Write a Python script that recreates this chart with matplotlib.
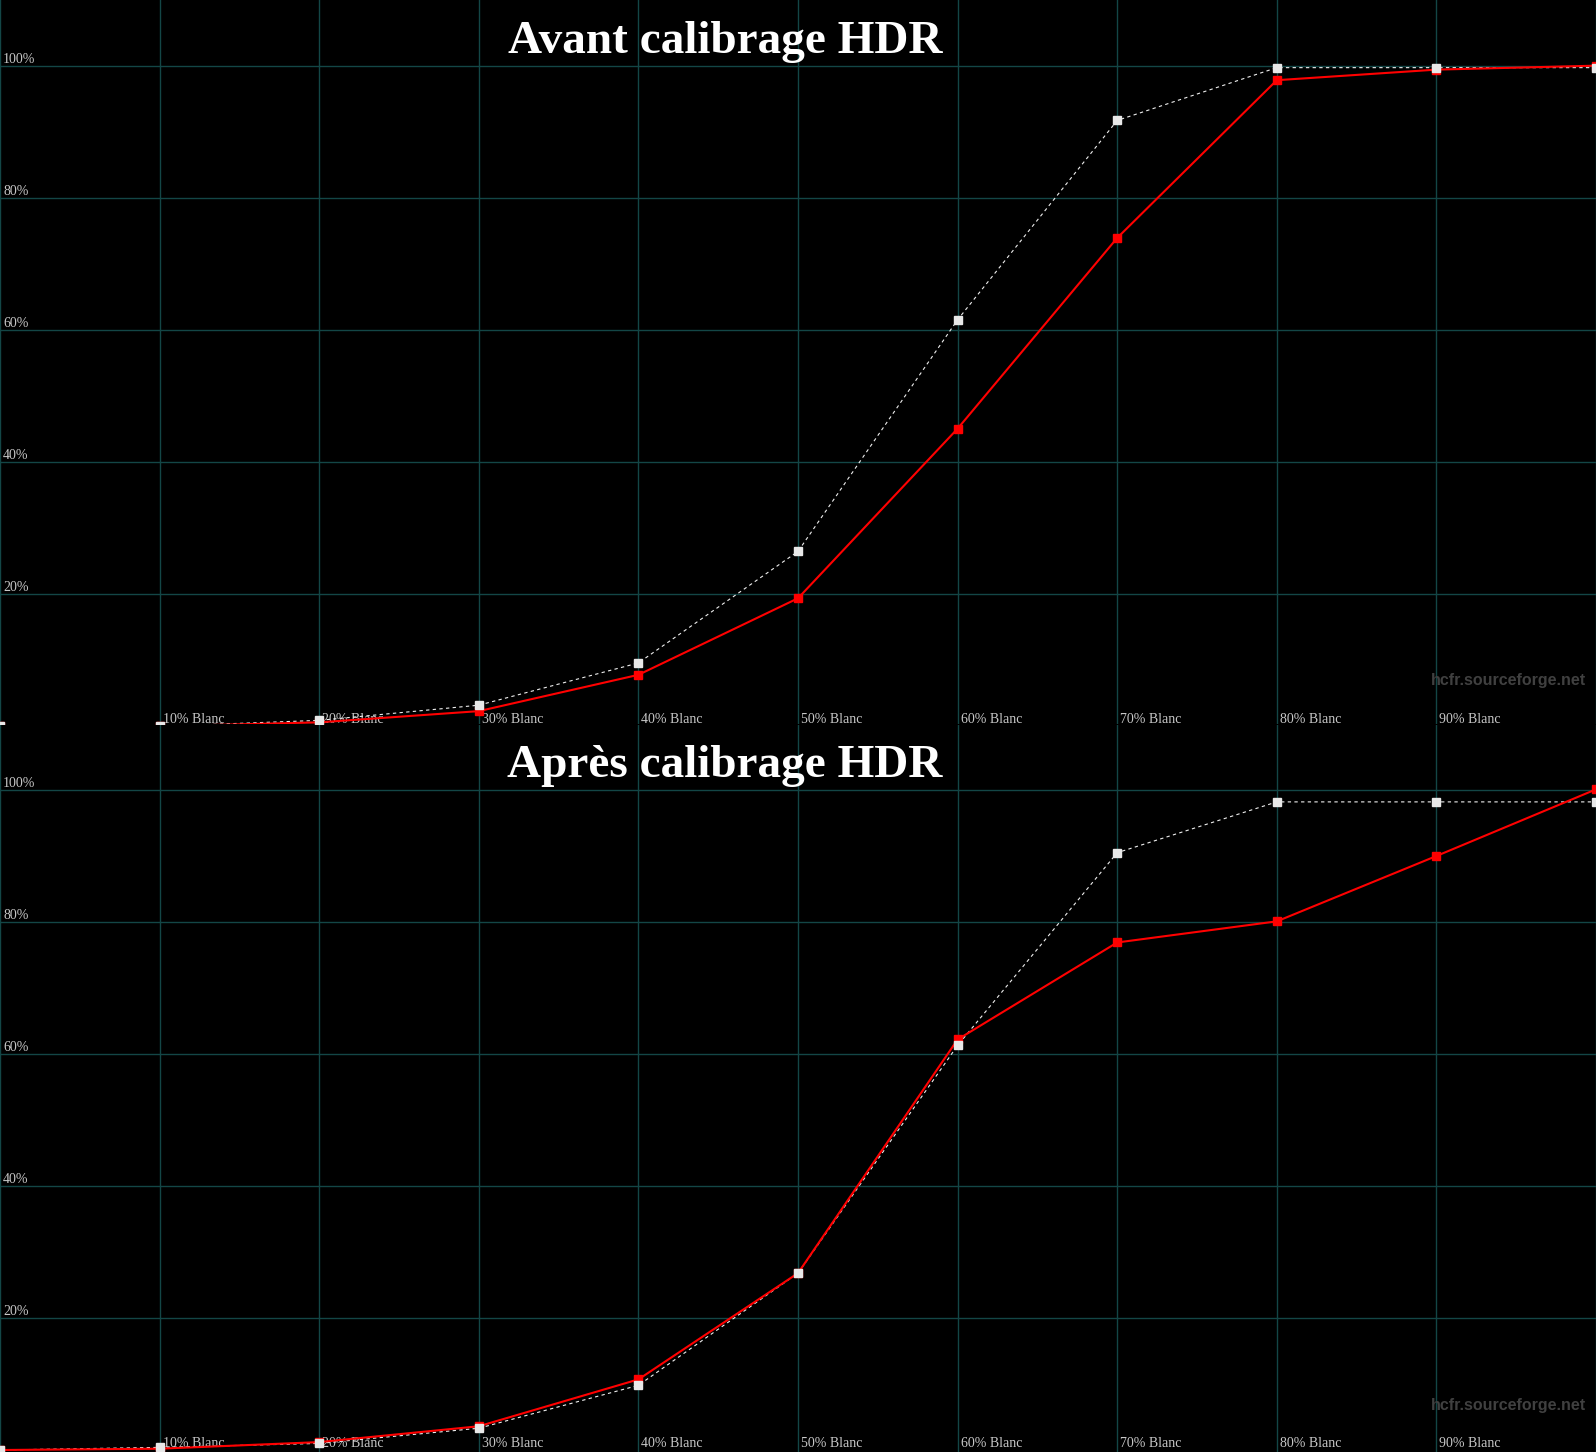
import matplotlib.pyplot as plt

# niveaux de gris mesurés (% blanc)
x = [0, 10, 20, 30, 40, 50, 60, 70, 80, 90, 100]
x_labels = ['10% Blanc', '20% Blanc', '30% Blanc', '40% Blanc', '50% Blanc',
            '60% Blanc', '70% Blanc', '80% Blanc', '90% Blanc']
y_ticks = [20, 40, 60, 80, 100]

# avant calibrage
ref_avant = [0, 0, 0.9, 3.2, 9.6, 26.5, 61.6, 91.8, 99.8, 99.8, 99.8]
mes_avant = [0, 0, 0.6, 2.3, 7.8, 19.4, 45.1, 74.0, 97.9, 99.5, 100.1]

# après calibrage
ref_apres = [0, 0.4, 1.0, 3.3, 9.8, 26.8, 61.3, 90.5, 98.2, 98.2, 98.2]
mes_apres = [0, 0.2, 1.2, 3.6, 10.7, 26.8, 62.2, 76.9, 80.1, 90.0, 100.1]

titles = ['Avant calibrage HDR', 'Après calibrage HDR']

grid_col = '#134646'
txt_col = '#c8c8c8'

W, H = 1596, 1452
fig = plt.figure(figsize=(W / 100, H / 100), dpi=100, facecolor='black')

# panneaux en pixels : (haut, bas, ylim)
panels = [
    (0, 724, (0.35, 110.05), ref_avant, mes_avant, 1.5, 685),
    (725, 1452, (-0.3, 109.85), ref_apres, mes_apres, 5, 1410),
]

for i, (top, bot, ylim, ref, mes, lab_off, wm_y) in enumerate(panels):
    ax = fig.add_axes([0, (H - bot) / H, 1, (bot - top) / H])
    ax.set_facecolor('black')
    ax.set_xlim(0, 100)
    ax.set_ylim(*ylim)
    for s in ax.spines.values():
        s.set_visible(False)
    ax.set_xticks([])
    ax.set_yticks([])

    for gx in range(0, 101, 10):
        ax.axvline(gx, color=grid_col, lw=1, zorder=1)
    for gy in y_ticks:
        ax.axhline(gy, color=grid_col, lw=1, zorder=1)
        ax.annotate('%d%%' % gy, (0, gy), xytext=(3, 3), textcoords='offset pixels',
                    fontsize=10, family='Liberation Serif', color=txt_col,
                    va='baseline', ha='left')

    for k, lab in enumerate(x_labels):
        ax.annotate(lab, (x[k + 1], ylim[0]), xytext=(3, lab_off),
                    textcoords='offset pixels', fontsize=10,
                    family='Liberation Serif', color=txt_col,
                    va='baseline', ha='left', zorder=2)

    ax.plot(x, ref, color='#eeeeee', lw=0.8, ls=(0, (3, 3)), zorder=3)
    ax.plot(x, mes, color='#ff0000', lw=1.5, marker='s', ms=5.5,
            mec='#ff0000', zorder=4)
    ax.plot(x, ref, ls='none', marker='s', ms=5.5, color='#e8e8e8', zorder=5)

    ax.text(0.9937, 1 - (wm_y - top) / (bot - top), 'hcfr.sourceforge.net',
            transform=ax.transAxes, ha='right', va='baseline', fontsize=11.5,
            fontweight='bold', family='Liberation Sans', color='#404040')

    base = 53.3 if i == 0 else 776.7
    fig.text(725 / W, 1 - base / H, titles[i], ha='center', va='baseline',
             fontsize=34, fontweight='bold', family='Liberation Serif',
             color='white')

fig.savefig('out.png', dpi=100, facecolor='black')
